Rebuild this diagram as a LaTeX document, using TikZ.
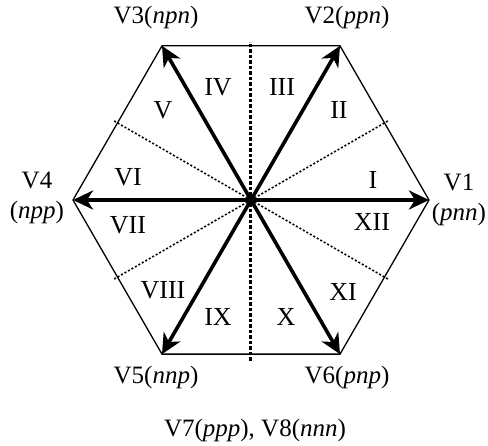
\documentclass[tikz,border=0pt]{standalone}
\usepackage{fontspec}
\setmainfont{Liberation Serif}
\usetikzlibrary{arrows.meta}

\begin{document}
\begin{tikzpicture}[x=1pt, y=1pt,
        vec/.style={line width=3.6pt, -{Stealth[length=20pt, width=19pt, inset=6pt]}},
        sector/.style={font=\fontsize{26}{30}\selectfont},
        vlabel/.style={font=\fontsize{25}{30}\selectfont, align=center}]
        % Frame
        \useasboundingbox (-251,-246) rectangle (237,200);

        % Centre and vertices
        \coordinate (O) at (0,0);
        \foreach \k in {1,...,6} {
            \coordinate (v\k) at ({(\k-1)*60}:178);
        }

        % Hexagon
        \draw[line width=1.3pt, line join=miter] (v1) -- (v2) -- (v3) -- (v4) -- (v5) -- (v6) -- cycle;

        % Sector boundaries
        \coordinate (t) at (0,158);
        \coordinate (b) at (0,-161);
        \draw[line width=3pt, dash pattern=on 3.5pt off 2pt] (b) -- (t);
        \foreach \a in {30,150,210,330} {
            \draw[line width=1.6pt, dash pattern=on 2pt off 2pt] (O) -- (\a:158);
        }

        % Voltage vectors
        \foreach \k in {1,...,6} {
            \draw[vec] (O) -- (v\k);
        }

        % Sector numbers
        \node[sector] (s1) at (122,20) {I};
        \node[sector] (s2) at (88,90) {II};
        \node[sector] (s3) at (31,113) {III};
        \node[sector] (s4) at (-33,113) {IV};
        \node[sector] (s5) at (-88,90) {V};
        \node[sector] (s6) at (-123,23) {VI};
        \node[sector] (s7) at (-123,-25) {VII};
        \node[sector] (s8) at (-88,-90) {VIII};
        \node[sector] (s9) at (-33,-117) {IX};
        \node[sector] (s10) at (35,-117) {X};
        \node[sector] (s11) at (92,-92) {XI};
        \node[sector] (s12) at (121,-22) {XII};

        % Vector names
        \node[vlabel] (l1) at (208,0) {V1\\(\textit{pnn})};
        \node[vlabel] (l2) at (96,183) {V2(\textit{ppn})};
        \node[vlabel] (l3) at (-95,183) {V3(\textit{npn})};
        \node[vlabel] (l4) at (-214,2) {V4\\(\textit{npp})};
        \node[vlabel] (l5) at (-95,-177) {V5(\textit{nnp})};
        \node[vlabel] (l6) at (96,-177) {V6(\textit{pnp})};
        \node[vlabel] (l0) at (4,-230) {V7(\textit{ppp}), V8(\textit{nnn})};
\end{tikzpicture}
\end{document}
